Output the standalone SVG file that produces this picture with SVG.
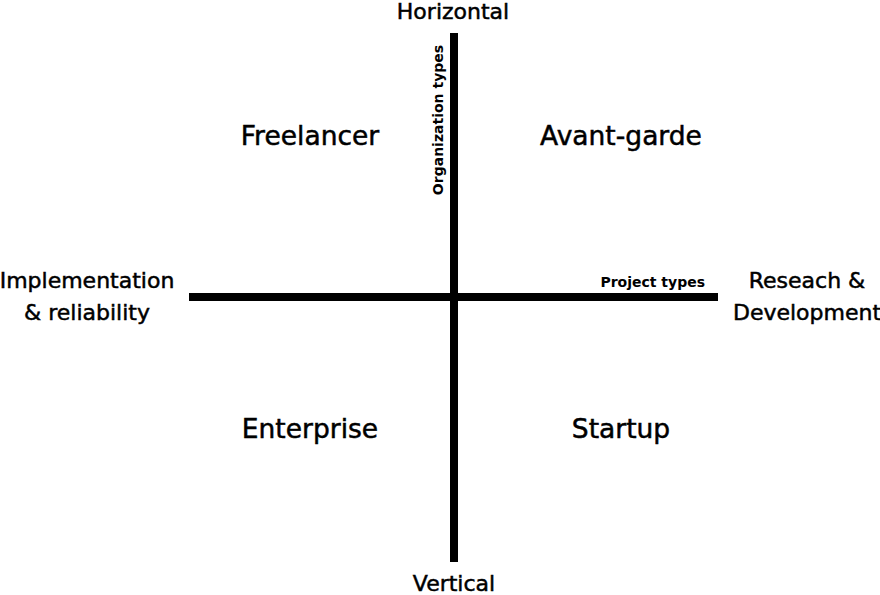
<svg xmlns="http://www.w3.org/2000/svg" width="880" height="595" viewBox="0 0 880 595">
<style>
text{font-family:"DejaVu Sans","Liberation Sans",sans-serif;fill:#000;text-anchor:middle;stroke:#000;stroke-width:0.5}
.q{font-size:26.5px}
.e{font-size:22px}
.s{font-size:14px;font-weight:bold;stroke-width:0}
.ax{stroke:#000;stroke-width:8;fill:none}
</style>
<rect width="880" height="595" fill="#fff"/>
<g id="connectors">
<line class="ax" x1="454" y1="33" x2="454" y2="562"/>
<line class="ax" x1="189" y1="297" x2="718" y2="297"/>
</g>
<g id="horizontal"><text class="e" x="453" y="19">Horizontal</text></g>
<g id="vertical"><text class="e" x="454" y="591">Vertical</text></g>
<g id="org-types"><text class="s" transform="translate(438,120) rotate(-90)" y="5">Organization types</text></g>
<g id="project-types"><text class="s" x="705" y="287" style="text-anchor:end">Project types</text></g>
<g id="freelancer"><text class="q" x="310" y="145">Freelancer</text></g>
<g id="avant-garde"><text class="q" x="621" y="145">Avant-garde</text></g>
<g id="enterprise"><text class="q" x="310" y="438">Enterprise</text></g>
<g id="startup"><text class="q" x="621" y="438">Startup</text></g>
<g id="impl"><text class="e" x="87" y="288">Implementation</text><text class="e" x="87" y="320">&amp; reliability</text></g>
<g id="rnd"><text class="e" x="807" y="288">Reseach &amp;</text><text class="e" x="807" y="320">Development</text></g>
</svg>
